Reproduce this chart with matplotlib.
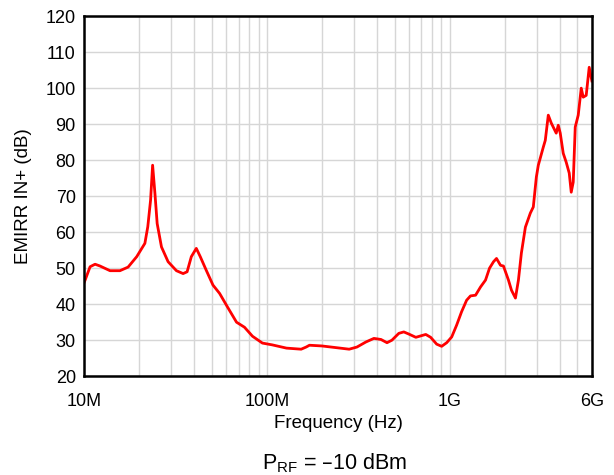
import numpy as np
import matplotlib.pyplot as plt
from matplotlib.ticker import FixedLocator, NullFormatter

plt.rcParams['font.family'] = ['Liberation Sans', 'DejaVu Sans']

# frequency in MHz, EMIRR in dB
freq_mhz = [10, 10.13, 10.78, 11.48, 12.22, 13.86, 15.7, 17.4, 19.4, 21.5, 22.3, 23.1,
            23.7, 24.4, 25.1, 26.5, 28.8, 32.0, 34.8, 36.6, 38.6, 41.1, 43.2,
            46.6, 50.7, 55.1, 60.9, 68.2, 75.4, 83.4, 94.5, 107, 128, 154, 164,
            171, 200, 282, 311, 348, 385, 421, 454, 483, 527, 561, 598, 653, 695,
            740, 787, 849, 904, 963, 1026, 1092, 1162, 1238, 1300, 1386, 1476,
            1571, 1652, 1738, 1804, 1897, 1969, 2097, 2178, 2290, 2378, 2468,
            2596, 2763, 2868, 2980, 3055, 3252, 3335, 3464, 3597, 3828, 3927,
            4027, 4182, 4343, 4510, 4625, 4743, 4864, 5051, 5246, 5379, 5585,
            5800, 6000]
emirr_db = [46.0, 46.7, 50.4, 51.1, 50.6, 49.3, 49.3, 50.3, 53.2, 56.9, 61.5, 68.9,
            78.6, 70.8, 62.4, 55.9, 51.8, 49.3, 48.5, 49.0, 53.2, 55.5, 53.2,
            49.4, 45.3, 43.0, 39.2, 35.0, 33.6, 31.1, 29.2, 28.7, 27.8, 27.5, 28.1,
            28.6, 28.4, 27.5, 28.1, 29.5, 30.5, 30.2, 29.3, 30.0, 31.9, 32.3, 31.7, 30.8,
            31.2, 31.6, 30.8, 28.9, 28.3, 29.3, 30.9, 34.2, 37.9, 41.1, 42.3, 42.5,
            44.8, 46.7, 50.0, 51.8, 52.7, 50.8, 50.6, 46.7, 43.9, 41.7, 46.7, 54.2,
            61.4, 65.3, 67.0, 75.3, 78.6, 83.6, 85.5, 92.5, 90.3, 87.5, 89.7,
            87.5, 81.9, 79.4, 76.4, 71.1, 73.9, 89.2, 92.5, 100.0, 97.5, 98.0,
            105.8, 102.0]

tick_vals = [1e7, 1e8, 1e9, 6e9]
tick_labels = ['10M', '100M', '1G', '6G']

freq = np.array(freq_mhz) * 1e6

fig = plt.figure(figsize=(6.14, 4.75), dpi=100)
ax = fig.add_axes([0.137, 0.208, 0.827, 0.758])

ax.semilogx(freq, emirr_db, color='#FF0000', lw=2.0, solid_joinstyle='round')

ax.set_xlim(1e7, 6e9)
ax.set_ylim(20, 120)
ax.set_yticks(range(20, 121, 10))
ax.set_xticks(tick_vals)
ax.set_xticklabels(tick_labels)
minor = [m * 10 ** d for d in range(7, 10) for m in range(2, 10) if m * 10 ** d < 6e9]
ax.xaxis.set_minor_locator(FixedLocator(minor))
ax.xaxis.set_minor_formatter(NullFormatter())

ax.grid(True, which='both', color='#d6d6d6', lw=1.0)
ax.set_axisbelow(True)
ax.tick_params(which='both', length=0, labelsize=13)
ax.tick_params(axis='x', pad=12)
ax.tick_params(axis='y', pad=6)

for s in ax.spines.values():
    s.set_linewidth(1.8)
    s.set_color('black')

ax.set_xlabel('Frequency (Hz)', fontsize=13.5, labelpad=4)
ax.set_ylabel('EMIRR IN+ (dB)', fontsize=13.5, labelpad=10)

fig.text(0.545, 0.025, r'P$_{\mathregular{RF}}$ = –10 dBm', fontsize=15.5,
         ha='center', va='center')

fig.savefig('out.png', dpi=100)
